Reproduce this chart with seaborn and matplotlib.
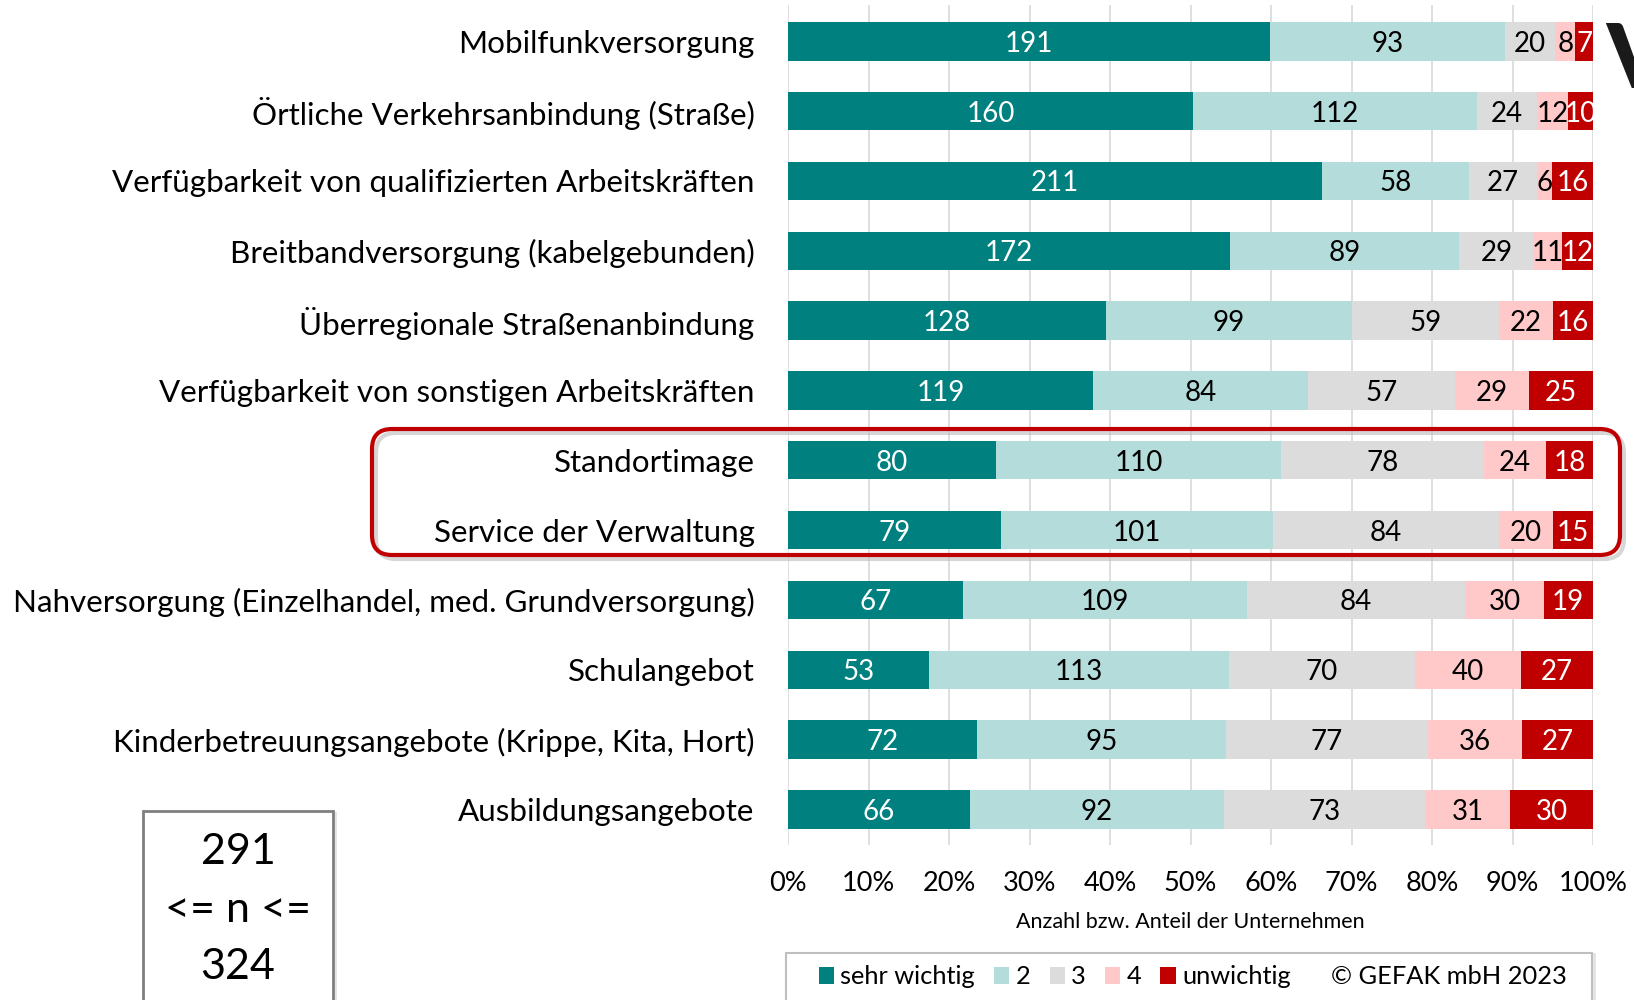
import numpy as np
import pandas as pd
import matplotlib.pyplot as plt
import seaborn as sns
from matplotlib.patches import FancyBboxPatch, Rectangle, Patch
from matplotlib.lines import Line2D

# Data
categories = [
    "Mobilfunkversorgung",
    "Örtliche Verkehrsanbindung (Straße)",
    "Verfügbarkeit von qualifizierten Arbeitskräften",
    "Breitbandversorgung (kabelgebunden)",
    "Überregionale Straßenanbindung",
    "Verfügbarkeit von sonstigen Arbeitskräften",
    "Standortimage",
    "Service der Verwaltung",
    "Nahversorgung (Einzelhandel, med. Grundversorgung)",
    "Schulangebot",
    "Kinderbetreuungsangebote (Krippe, Kita, Hort)",
    "Ausbildungsangebote",
]
sehr_wichtig = [191, 160, 211, 172, 128, 119, 80, 79, 67, 53, 72, 66]
stufe_2 = [93, 112, 58, 89, 99, 84, 110, 101, 109, 113, 95, 92]
stufe_3 = [20, 24, 27, 29, 59, 57, 78, 84, 84, 70, 77, 73]
stufe_4 = [8, 12, 6, 11, 22, 29, 24, 20, 30, 40, 36, 31]
unwichtig = [7, 10, 16, 12, 16, 25, 18, 15, 19, 27, 27, 30]

legend_labels = ["sehr wichtig", "2", "3", "4", "unwichtig"]
colors = ["#00807F", "#B3DCDB", "#DCDCDC", "#FFC9C9", "#C00000"]
text_colors = ["white", "black", "black", "black", "white"]
x_ticks = [0, 10, 20, 30, 40, 50, 60, 70, 80, 90, 100]

plt.rcParams['font.family'] = ['Lato', 'DejaVu Sans']

counts = np.array([sehr_wichtig, stufe_2, stufe_3, stufe_4, unwichtig]).T
pct = counts / counts.sum(axis=1, keepdims=True) * 100
cum = np.cumsum(pct, axis=1)

df = pd.DataFrame(cum, columns=legend_labels)
df["Kategorie"] = categories

W, H = 16.34, 10.0
fig = plt.figure(figsize=(W, H), dpi=100)
ax = fig.add_axes([788 / 1634, 0.155, (1593 - 788) / 1634, 0.84])

# stacked bars: draw cumulative layers from the widest to the narrowest
for i in reversed(range(len(legend_labels))):
    sns.barplot(data=df, x=legend_labels[i], y="Kategorie", orient="h",
                color=colors[i], saturation=1, width=0.55, errorbar=None,
                linewidth=0, ax=ax, zorder=2)

for r in range(len(categories)):
    for k in range(len(legend_labels)):
        center = cum[r, k] - pct[r, k] / 2
        ax.text(center, r, str(counts[r, k]), ha="center", va="center_baseline",
                color=text_colors[k], fontsize=20, zorder=3)

ax.set_xlim(0, 100)
ax.set_ylim(11.51, -0.52)
ax.set_xticks(x_ticks)
ax.set_xticklabels([f"{t}%" for t in x_ticks], fontsize=19.5)
ax.tick_params(axis="x", length=0, pad=19)
ax.tick_params(axis="y", length=0, pad=24, labelsize=22.6)
ax.set_xlabel("")
ax.set_ylabel("")
ax.grid(axis="x", color="#D9D9D9", linewidth=1.2, zorder=0)
ax.set_axisbelow(True)
for s in ax.spines.values():
    s.set_visible(False)

fig.text(1190 / 1634, 1 - 922 / 1000, "Anzahl bzw. Anteil der Unternehmen",
         ha="center", va="center", fontsize=15.5)

# red highlight frame around two rows (inches)
fig.patches.append(FancyBboxPatch((3.76, 4.41), 12.48, 1.26,
                                  boxstyle="round,pad=0,rounding_size=0.2",
                                  transform=fig.dpi_scale_trans, fill=False,
                                  edgecolor="#BBBBBB", linewidth=3, alpha=0.6))
fig.patches.append(FancyBboxPatch((3.72, 4.45), 12.48, 1.26,
                                  boxstyle="round,pad=0,rounding_size=0.2",
                                  transform=fig.dpi_scale_trans, fill=False,
                                  edgecolor="#C00000", linewidth=3))

# legend frame (cut by the figure edge)
fig.patches.append(Rectangle((7.90, -0.2), 8.06, 0.67, transform=fig.dpi_scale_trans,
                             facecolor="#CCCCCC", edgecolor="none", alpha=0.5))
fig.patches.append(Rectangle((7.86, -0.15), 8.06, 0.62, transform=fig.dpi_scale_trans,
                             facecolor="white", edgecolor="#BFBFBF", linewidth=1.5))
handles = [Patch(facecolor=c, edgecolor="none") for c in colors]
handles.append(Line2D([], [], color="none"))
fig.legend(handles, legend_labels + ["© GEFAK mbH 2023"], loc="center left",
           bbox_to_anchor=(796 / 1634, 1 - 977 / 1000), ncol=6, frameon=False,
           fontsize=18.3, handlelength=0.6, handleheight=0.6, handletextpad=0.25,
           columnspacing=0.75)

# sample size box
fig.patches.append(Rectangle((1.47, -0.15), 1.9, 2.03, transform=fig.dpi_scale_trans,
                             facecolor="#CCCCCC", edgecolor="none", alpha=0.5))
fig.patches.append(Rectangle((1.43, -0.1), 1.9, 1.99, transform=fig.dpi_scale_trans,
                             facecolor="white", edgecolor="#7F7F7F", linewidth=2))
for txt, ypx in [("291", 852), ("<= n <=", 910), ("324", 967)]:
    fig.text(238 / 1634, 1 - ypx / 1000, txt, ha="center", va="center", fontsize=31)

# cut-off title letter at the right edge
fig.text(1606 / 1634, 1 - 62 / 1000, "V", ha="left", va="center",
         fontsize=64, fontweight="heavy", color="#1A1A1A")

fig.savefig("out.png", dpi=100)
